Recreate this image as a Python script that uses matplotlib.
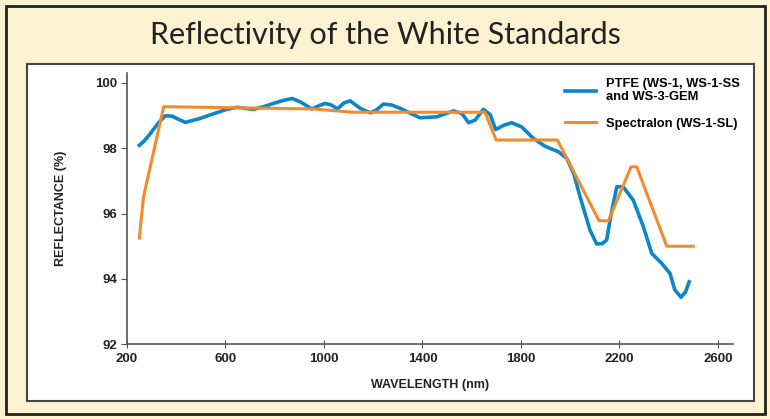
import matplotlib.pyplot as plt
from matplotlib.patches import Rectangle

# PTFE (blue)
ptfe_nm = [250, 270, 295, 325, 355, 383, 410, 437, 467, 497, 550, 606, 646, 680, 714,
           755, 795, 835, 870, 903, 951, 980, 1005, 1030, 1055, 1080, 1106, 1147,
           1188, 1215, 1241, 1275, 1309, 1350, 1390, 1458, 1526, 1560, 1587, 1614,
           1647, 1675, 1697, 1730, 1762, 1803, 1850, 1900, 1952, 1986, 2015, 2040,
           2080, 2107, 2130, 2148, 2164, 2189, 2215, 2256, 2297, 2331, 2371, 2405,
           2425, 2450, 2468, 2483]
ptfe_refl = [98.09, 98.22, 98.45, 98.75, 98.99, 98.98, 98.88, 98.79, 98.85, 98.91,
             99.05, 99.19, 99.25, 99.22, 99.19, 99.27, 99.37, 99.46, 99.52, 99.42,
             99.2, 99.3, 99.37, 99.32, 99.2, 99.38, 99.45, 99.22, 99.08, 99.18,
             99.35, 99.32, 99.22, 99.07, 98.93, 98.96, 99.14, 99.06, 98.78, 98.86,
             99.19, 99.03, 98.57, 98.7, 98.78, 98.65, 98.3, 98.05, 97.89, 97.69,
             97.2, 96.51, 95.5, 95.07, 95.08, 95.19, 95.9, 96.82, 96.82, 96.41,
             95.6, 94.78, 94.48, 94.17, 93.66, 93.44, 93.6, 93.91]

# Spectralon (orange)
spec_nm = [250, 267, 349, 956, 1118, 1654, 1699, 1948, 2117, 2155, 2247, 2270, 2392, 2500]
spec_refl = [95.25, 96.51, 99.27, 99.2, 99.1, 99.1, 98.25, 98.25, 95.78, 95.78,
             97.43, 97.43, 95.0, 95.0]

x_ticks = [200, 600, 1000, 1400, 1800, 2200, 2600]
y_ticks = [92, 94, 96, 98, 100]

blue = '#0b87c9'
orange = '#f58a2c'
cream = '#fdf3d2'

fig = plt.figure(figsize=(7.7, 4.19), dpi=100)
fig.patch.set_facecolor(cream)
W, H = 770, 419

# outer border and white panel
fig.add_artist(Rectangle((6 / W, 5 / H), 759 / W, 408 / H, transform=fig.transFigure,
                         fill=False, edgecolor='#222222', linewidth=2))
fig.add_artist(Rectangle((27 / W, (H - 401) / H), 727 / W, 337 / H, transform=fig.transFigure,
                         facecolor='white', edgecolor='#444444', linewidth=1.5, zorder=0))

fig.text(0.5, 1 - 35 / H, 'Reflectivity of the White Standards', ha='center', va='center',
         fontsize=22, family='Lato', color='#222222')

ax = fig.add_axes([127 / W, (H - 344.3) / H, (733 - 127) / W, (344.3 - 73) / H])
ax.set_facecolor('none')
ax.plot(ptfe_nm, ptfe_refl, color=blue, lw=2.6, label='PTFE (WS-1, WS-1-SS\nand WS-3-GEM')
ax.plot(spec_nm, spec_refl, color=orange, lw=2.2, label='Spectralon (WS-1-SL)')

ax.set_xlim(200, 2661)
ax.set_ylim(92, 100.3)
ax.set_xticks(x_ticks)
ax.set_yticks(y_ticks)
for s in ['top', 'right']:
    ax.spines[s].set_visible(False)
for s in ['left', 'bottom']:
    ax.spines[s].set_color('#555555')
    ax.spines[s].set_linewidth(1.2)
ax.tick_params(axis='x', direction='inout', length=6, color='#555555', pad=3)
ax.tick_params(axis='y', direction='out', length=4, color='#555555', pad=3)
for lab in ax.get_xticklabels() + ax.get_yticklabels():
    lab.set_fontweight('bold')
    lab.set_fontsize(9.5)
    lab.set_family('Liberation Sans')
    lab.set_color('#222222')

ax.set_xlabel('WAVELENGTH (nm)', fontsize=9, fontweight='bold', family='Liberation Sans',
              color='#222222', labelpad=10)
ax.set_ylabel('REFLECTANCE (%)', fontsize=9, fontweight='bold', family='Liberation Sans',
              color='#222222', labelpad=20)

ax.legend(loc='upper left', bbox_to_anchor=(553 / W, 1 - 66 / H), bbox_transform=fig.transFigure,
          frameon=False, handlelength=2.4, handletextpad=0.8, labelspacing=1.1,
          prop={'family': 'Liberation Sans', 'weight': 'bold', 'size': 9.3})

fig.savefig('out.png', dpi=100, facecolor=cream)
